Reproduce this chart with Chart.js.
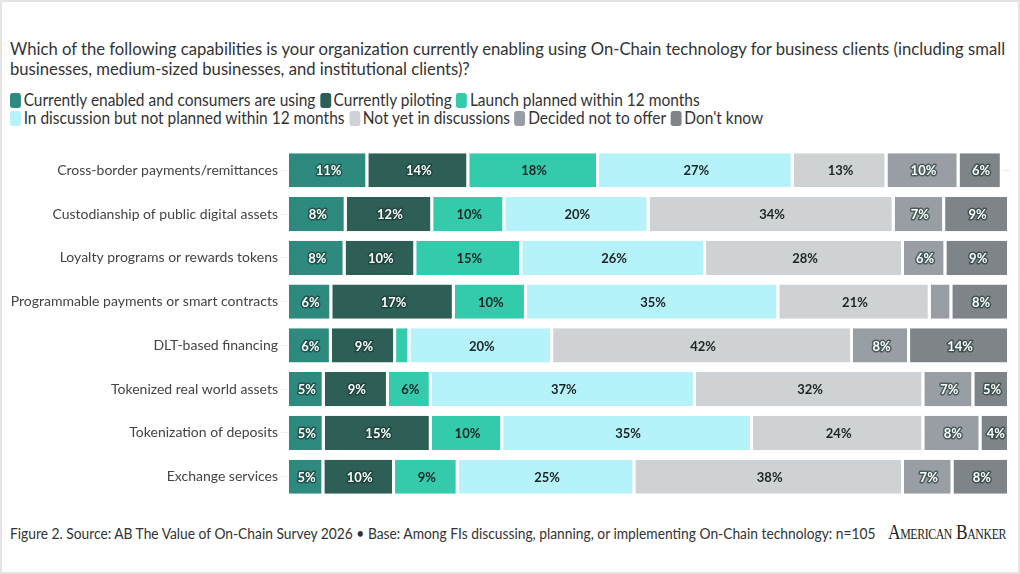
<!DOCTYPE html>
<html>
<head>
<meta charset="utf-8">
<script src="https://cdn.jsdelivr.net/npm/chart.js@4.4.1/dist/chart.umd.min.js"></script>
<style>
    html, body { margin: 0; padding: 0; }
    body {
        width: 1020px; height: 574px; position: relative; overflow: hidden;
        background: #fff; font-family: Lato, sans-serif; color: #333;
        box-sizing: border-box; border: 2px solid #e4e4e4;
    }
    .squeeze { position: absolute; transform-origin: left top; white-space: nowrap; }
    #title { left: 8px; top: 36px; font-size: 18px; line-height: 20px; color: #333; transform: scaleX(0.925); }
    #legend { left: 8px; top: 89px; font-size: 17px; line-height: 18px; color: #333; transform: scaleX(0.91); }
    #legend .item { display: inline-block; margin-right: 5px; }
    #legend .sw { display: inline-block; width: 12px; height: 15px; border-radius: 3px; vertical-align: -2px; margin-right: 3px; }
    #footer { left: 8px; top: 522px; font-size: 15.5px; color: #333; transform: scaleX(0.89); }
    #logo { position: absolute; left: 886px; top: 517px; font-family: "Liberation Serif", serif; font-variant: small-caps;
        font-size: 22px; color: #222; transform-origin: left top; transform: scaleX(0.79); white-space: nowrap; letter-spacing: -0.5px; }
    #wrap { position: absolute; left: 0; top: 135px; width: 1008px; height: 373px; }
</style>
</head>
<body>
<div id="title" class="squeeze">Which of the following capabilities is your organization currently enabling using On-Chain technology for business clients (including small<br>businesses, medium-sized businesses, and institutional clients)?</div>
<div id="legend" class="squeeze"></div>
<div id="wrap"><canvas id="chart"></canvas></div>
<div id="footer" class="squeeze">Figure 2. Source: AB The Value of On-Chain Survey 2026 • Base: Among FIs discussing, planning, or implementing On-Chain technology: n=105</div>
<div id="logo">American Banker</div>
<script>
const categories = [
    'Cross-border payments/remittances',
    'Custodianship of public digital assets',
    'Loyalty programs or rewards tokens',
    'Programmable payments or smart contracts',
    'DLT-based financing',
    'Tokenized real world assets',
    'Tokenization of deposits',
    'Exchange services'
];

const seriesNames = [
    'Currently enabled and consumers are using',
    'Currently piloting',
    'Launch planned within 12 months',
    'In discussion but not planned within 12 months',
    'Not yet in discussions',
    'Decided not to offer',
    "Don't know"
];

const enabled     = [11, 8, 8, 6, 6, 5, 5, 5];
const piloting    = [14, 12, 10, 17, 9, 9, 15, 10];
const launch      = [18, 10, 15, 10, 2, 6, 10, 9];
const discussion  = [27, 20, 26, 35, 20, 37, 35, 25];
const notYet      = [13, 34, 28, 21, 42, 32, 24, 38];
const decidedNot  = [10, 7, 6, 3, 8, 7, 8, 7];
const dontKnow    = [6, 9, 9, 8, 14, 5, 4, 8];

const seriesValues = [enabled, piloting, launch, discussion, notYet, decidedNot, dontKnow];
const colors = ['#2e8a7e', '#2e5f56', '#34cbad', '#b5f2fa', '#ced2d4', '#989ea4', '#7f8488'];
const labelDark = [false, false, true, true, true, false, false];
// small segments carry no label
const minLabel = 4;

// rounded percentages can add up to over 100, scale those rows back to 100
const rowTotals = categories.map((c, i) => seriesValues.reduce((s, arr) => s + arr[i], 0));

const legendEl = document.getElementById('legend');
seriesNames.forEach((name, i) => {
    if (i === 3) legendEl.appendChild(document.createElement('br'));
    const item = document.createElement('span');
    item.className = 'item';
    item.innerHTML = `<span class="sw" style="background:${colors[i]}"></span>${name}`;
    legendEl.appendChild(item);
});

const barLabels = {
    id: 'barLabels',
    afterDatasetsDraw(chart) {
        const ctx = chart.ctx;
        ctx.save();
        ctx.font = 'bold 13px Lato';
        ctx.textAlign = 'center';
        ctx.textBaseline = 'middle';
        ctx.lineJoin = 'round';
        chart.data.datasets.forEach((ds, di) => {
            chart.getDatasetMeta(di).data.forEach((bar, i) => {
                const raw = seriesValues[di][i];
                if (raw < minLabel) return;
                const x = (bar.x + bar.base) / 2;
                const text = raw + '%';
                if (labelDark[di]) {
                    ctx.fillStyle = '#1b2424';
                } else {
                    ctx.lineWidth = 3;
                    ctx.strokeStyle = 'rgba(20,50,45,0.6)';
                    ctx.strokeText(text, x, bar.y + 1);
                    ctx.fillStyle = '#ffffff';
                }
                ctx.fillText(text, x, bar.y + 1);
            });
        });
        ctx.restore();
    }
};

new Chart(document.getElementById('chart'), {
    type: 'bar',
    data: {
        labels: categories,
        datasets: seriesValues.map((vals, di) => ({
            label: seriesNames[di],
            data: vals.map((v, i) => v * 100 / Math.max(rowTotals[i], 100)),
            backgroundColor: colors[di],
            borderColor: '#ffffff',
            borderWidth: { left: 0, right: 3, top: 0, bottom: 0 },
            borderSkipped: false,
            categoryPercentage: 1,
            barPercentage: 0.78
        }))
    },
    options: {
        indexAxis: 'y',
        responsive: true,
        maintainAspectRatio: false,
        animation: false,
        layout: { padding: 0 },
        plugins: {
            legend: { display: false },
            tooltip: { enabled: false }
        },
        scales: {
            x: {
                stacked: true,
                min: 0,
                max: 100,
                display: false
            },
            y: {
                stacked: true,
                afterFit: (scale) => { scale.width = 287; },
                grid: { offset: false, color: '#eeeeee', tickLength: 8, drawOnChartArea: true },
                border: { display: false },
                ticks: { color: '#444', font: { family: 'Lato', size: 14 }, padding: 3 }
            }
        }
    },
    plugins: [barLabels]
});
</script>
</body>
</html>
